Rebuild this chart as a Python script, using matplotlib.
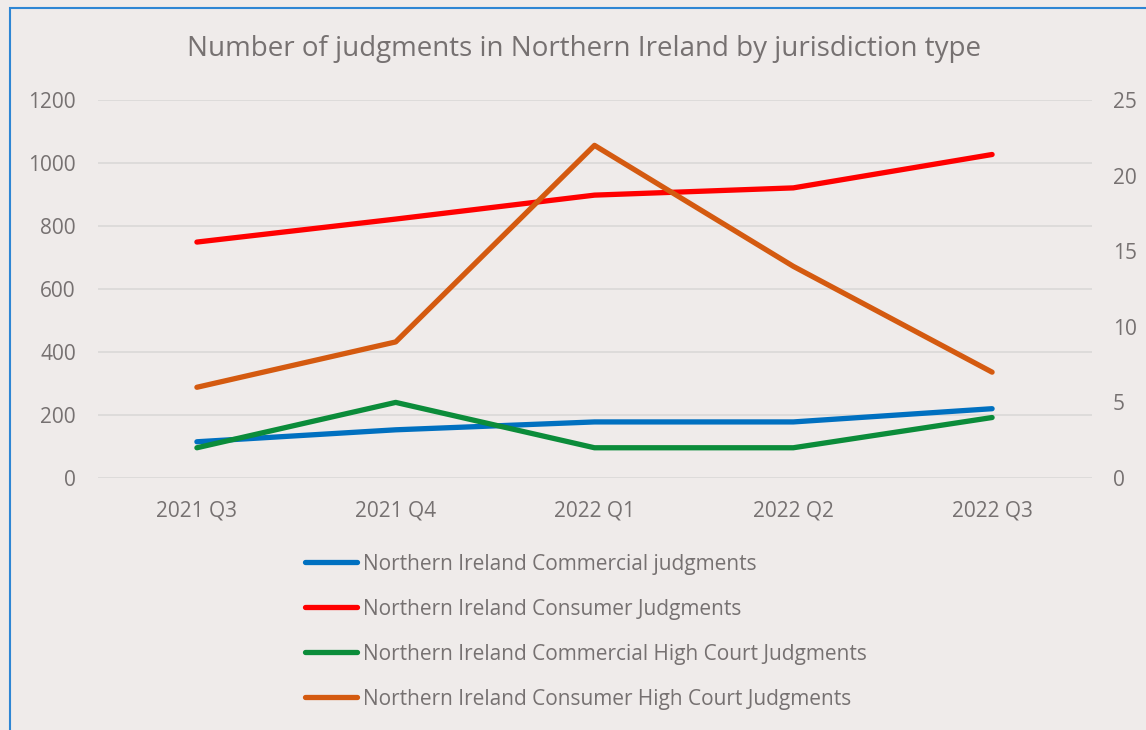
import matplotlib
matplotlib.use("Agg")
import matplotlib.pyplot as plt
from matplotlib.patches import Rectangle

plt.rcParams["font.family"] = ["Open Sans", "DejaVu Sans"]

quarters = ["2021 Q3", "2021 Q4", "2022 Q1", "2022 Q2", "2022 Q3"]
commercial = [115, 153, 178, 178, 220]
consumer = [749, 822, 898, 921, 1027]
commercial_hc = [2, 5, 2, 2, 4]
consumer_hc = [6, 9, 22, 14, 7]

BG = "#efebea"
TXT = "#767171"
GRID = "#dcdad9"

fig = plt.figure(figsize=(11.46, 7.30), dpi=100, facecolor=BG)
W, H = 1146, 730
ax = fig.add_axes([97.5 / W, 1 - 478 / H, (1091.5 - 97.5) / W, (478 - 100) / H])
ax.set_facecolor(BG)
ax2 = ax.twinx()

x = range(len(quarters))
l1, = ax.plot(x, commercial, color="#0070c0", lw=3.8, solid_capstyle="round",
              label="Northern Ireland Commercial judgments")
l2, = ax.plot(x, consumer, color="#ff0000", lw=3.8, solid_capstyle="round",
              label="Northern Ireland Consumer Judgments")
l3, = ax2.plot(x, commercial_hc, color="#0b8c3a", lw=3.8, solid_capstyle="round",
               label="Northern Ireland Commercial High Court Judgments")
l4, = ax2.plot(x, consumer_hc, color="#d45a10", lw=3.8, solid_capstyle="round",
               label="Northern Ireland Consumer High Court Judgments")

ax.set_xlim(-0.5, 4.5)
ax.set_ylim(0, 1200)
ax.set_yticks(range(0, 1201, 200))
ax2.set_ylim(0, 25)
ax2.set_yticks(range(0, 26, 5))
ax.set_xticks(list(x))
ax.set_xticklabels(quarters)
ax.grid(axis="y", color=GRID, lw=1.3)
ax.set_axisbelow(True)

for a in (ax, ax2):
    for s in a.spines.values():
        s.set_visible(False)
    a.tick_params(length=0, labelsize=15, labelcolor=TXT)
ax.tick_params(axis="y", pad=15.5)
ax.tick_params(axis="x", pad=16)
ax2.tick_params(axis="y", pad=15.5)

fig.text(584 / W, 1 - 49 / H, "Number of judgments in Northern Ireland by jurisdiction type",
         ha="center", va="center", fontsize=20, color=TXT)

leg = fig.legend(handles=[l1, l2, l3, l4], loc="upper left",
                 bbox_to_anchor=(286 / W, 1 - 535 / H), frameon=False,
                 fontsize=15, handlelength=2.5, handletextpad=0.29,
                 labelspacing=1.15, labelcolor=TXT)

fig.patches.append(Rectangle((10 / W, -0.05), 1.2, (1 - 8 / H) + 0.05,
                             transform=fig.transFigure, fill=False,
                             edgecolor="#2e86d4", lw=1.5))

fig.savefig("out.png", dpi=100, facecolor=BG)
